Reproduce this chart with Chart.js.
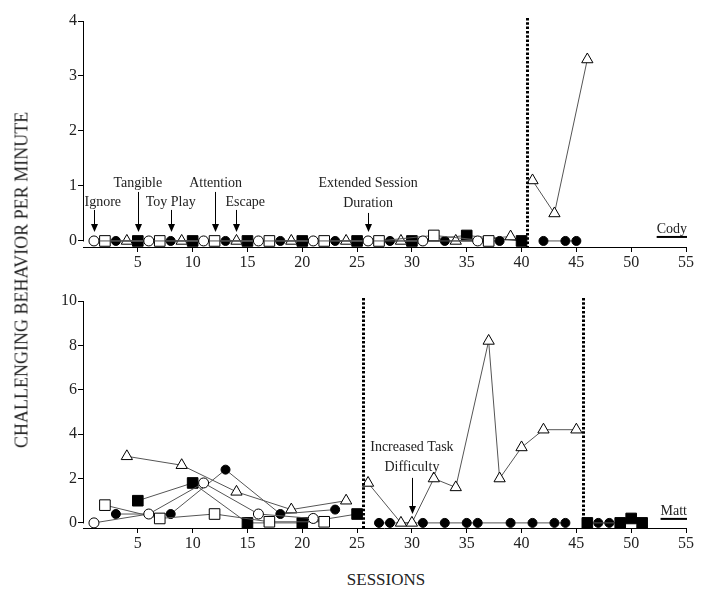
<!DOCTYPE html>
<html>
<head>
<meta charset="utf-8">
<script src="https://cdn.jsdelivr.net/npm/chart.js@4.4.1/dist/chart.umd.min.js"></script>
<style>
  body { margin: 0; background: #fff; }
  #wrap { position: relative; width: 704px; height: 598px; overflow: hidden; }
  canvas { position: absolute; left: 0; }
  #top_chart { top: 0; }
  #bottom_chart { top: 285px; }
  .axis_title { position: absolute; font-family: 'Liberation Serif', serif; font-size: 17px; color: #222; white-space: nowrap; }
  #y_title { left: 22px; top: 280px; font-size: 18px; transform: translate(-50%, -50%) rotate(-90deg); }
  #x_title { left: 386px; top: 580px; transform: translate(-50%, -50%); }
</style>
</head>
<body>
<div id="wrap">
  <canvas id="top_chart" width="704" height="280"></canvas>
  <canvas id="bottom_chart" width="704" height="276"></canvas>
  <div class="axis_title" id="y_title">CHALLENGING BEHAVIOR PER MINUTE</div>
  <div class="axis_title" id="x_title">SESSIONS</div>
</div>
<script>
// tick labels
var session_ticks = [5, 10, 15, 20, 25, 30, 35, 40, 45, 50, 55];
var cody_y_ticks = [0, 1, 2, 3, 4];
var matt_y_ticks = [0, 2, 4, 6, 8, 10];

// Cody - functional analysis (phase 1)
var cody_ignore_sessions = [1, 6, 11, 16, 21, 26, 31, 36];
var cody_ignore = [0, 0, 0, 0, 0, 0, 0, 0];
var cody_attention_sessions = [2, 7, 12, 17, 22, 27, 32, 37];
var cody_attention = [0, 0, 0, 0, 0, 0, 0.1, 0];
var cody_toyplay_sessions = [3, 8, 13, 18, 23, 28, 33, 38];
var cody_toyplay = [0, 0, 0, 0, 0, 0, 0, 0];
var cody_escape_sessions = [4, 9, 14, 19, 24, 29, 34, 39];
var cody_escape = [0, 0, 0, 0, 0, 0, 0, 0.08];
var cody_tangible_sessions = [5, 10, 15, 20, 25, 30, 35, 40];
var cody_tangible = [0, 0, 0, 0, 0, 0, 0.1, 0];
// Cody - phase 2
var cody_escape2_sessions = [41, 43, 46];
var cody_escape2 = [1.1, 0.5, 3.3];
var cody_toyplay2_sessions = [42, 44, 45];
var cody_toyplay2 = [0, 0, 0];
var cody_phase_changes = [40.5];

// Matt - functional analysis (phase 1)
var matt_ignore_sessions = [1, 6, 11, 16, 21];
var matt_ignore = [0, 0.4, 1.8, 0.4, 0.2];
var matt_attention_sessions = [2, 7, 12, 17, 22];
var matt_attention = [0.8, 0.2, 0.4, 0.05, 0.05];
var matt_toyplay_sessions = [3, 8, 13, 18, 23];
var matt_toyplay = [0.4, 0.4, 2.4, 0.4, 0.6];
var matt_escape_sessions = [4, 9, 14, 19, 24];
var matt_escape = [3.0, 2.6, 1.4, 0.6, 1.0];
var matt_tangible_sessions = [5, 10, 15, 20, 25];
var matt_tangible = [1.0, 1.8, 0, 0, 0.4];
// Matt - phase 2
var matt_escape2_sessions = [26, 29, 30, 32, 34, 37, 38, 40, 42, 45];
var matt_escape2 = [1.8, 0, 0, 2.0, 1.6, 8.2, 2.0, 3.4, 4.2, 4.2];
var matt_toyplay2_sessions = [27, 28, 31, 33, 35, 36, 39, 41, 43, 44];
var matt_toyplay2 = [0, 0, 0, 0, 0, 0, 0, 0, 0, 0];
// Matt - phase 3
var matt_tangible3_sessions = [46, 49, 50, 51];
var matt_tangible3 = [0, 0, 0.2, 0];
var matt_toyplay3_sessions = [47, 48];
var matt_toyplay3 = [0, 0];
var matt_phase_changes = [25.5, 45.6];

var serif = "'Liberation Serif', serif";
var ink = '#222';

// marker looks for each condition
var marker = {
    ignore:    { style: 'circle',   radius: 5,   fill: '#fff' },
    attention: { style: 'rect',     radius: 7.5, fill: '#fff' },
    toyplay:   { style: 'circle',   radius: 4.5, fill: '#000' },
    escape:    { style: 'triangle', radius: 6.5, fill: '#fff' },
    tangible:  { style: 'rect',     radius: 7.5, fill: '#000' }
};

function series(sessions, values, kind) {
    var m = marker[kind];
    return {
        data: sessions.map(function (s, i) { return { x: s, y: values[i] }; }),
        pointStyle: m.style,
        pointRadius: m.radius,
        pointBackgroundColor: m.fill,
        pointBorderColor: '#000',
        pointBorderWidth: 1,
        borderColor: '#555',
        borderWidth: 1,
        tension: 0,
        clip: false
    };
}

function arrow(ctx, x, y1, y2) {
    ctx.beginPath();
    ctx.moveTo(x, y1);
    ctx.lineTo(x, y2 - 6);
    ctx.stroke();
    ctx.beginPath();
    ctx.moveTo(x - 3.5, y2 - 8);
    ctx.lineTo(x + 3.5, y2 - 8);
    ctx.lineTo(x, y2);
    ctx.closePath();
    ctx.fill();
}

// axis lines, phase lines, notes and subject name
function panel_plugin(y_max, phases, notes, subject) {
    return {
        id: 'panel_extras',
        afterDraw: function (chart) {
            var ctx = chart.ctx;
            var xs = chart.scales.x, ys = chart.scales.y;
            var area = chart.chartArea;
            var zero = ys.getPixelForValue(0);
            ctx.save();
            ctx.strokeStyle = '#000';
            ctx.fillStyle = '#000';
            ctx.lineWidth = 1;
            ctx.beginPath();
            ctx.moveTo(area.left + 0.5, ys.getPixelForValue(y_max));
            ctx.lineTo(area.left + 0.5, zero + 0.5);
            ctx.moveTo(area.left, area.bottom + 0.5);
            ctx.lineTo(xs.getPixelForValue(55), area.bottom + 0.5);
            ctx.stroke();

            ctx.lineWidth = 3;
            ctx.setLineDash([2.5, 1.8]);
            phases.forEach(function (p) {
                var px = Math.round(xs.getPixelForValue(p)) + 0.5;
                ctx.beginPath();
                ctx.moveTo(px, ys.getPixelForValue(y_max) - 3);
                ctx.lineTo(px, area.bottom);
                ctx.stroke();
            });
            ctx.setLineDash([]);

            ctx.lineWidth = 1;
            ctx.fillStyle = ink;
            ctx.font = '14px ' + serif;
            ctx.textAlign = 'center';
            ctx.textBaseline = 'middle';
            notes.forEach(function (n) {
                n.lines.forEach(function (t, i) {
                    ctx.fillText(t, xs.getPixelForValue(n.label_at), zero - n.text_up + i * 20);
                });
                ctx.fillStyle = '#000';
                arrow(ctx, Math.round(xs.getPixelForValue(n.session)) + 0.5, zero - n.arrow_up, zero - 9);
                ctx.fillStyle = ink;
            });

            ctx.textAlign = 'right';
            ctx.textBaseline = 'alphabetic';
            var right = xs.getPixelForValue(55) + 1;
            ctx.fillText(subject, right, zero - 8);
            var w = ctx.measureText(subject).width;
            ctx.lineWidth = 2;
            ctx.strokeStyle = '#000';
            ctx.beginPath();
            ctx.moveTo(right - w, zero - 4);
            ctx.lineTo(right, zero - 4);
            ctx.stroke();
            ctx.restore();
        }
    };
}

function make_panel(canvas_id, datasets, y_min, y_max, y_ticks, top_pad, plugin) {
    return new Chart(document.getElementById(canvas_id), {
        type: 'line',
        data: { datasets: datasets },
        options: {
            responsive: false,
            animation: false,
            layout: { padding: { top: top_pad, right: 18, left: 0, bottom: 0 } },
            scales: {
                x: {
                    type: 'linear',
                    min: 0,
                    max: 55,
                    afterBuildTicks: function (axis) {
                        axis.ticks = session_ticks.map(function (v) { return { value: v }; });
                    },
                    afterFit: function (axis) { axis.height = 33; },
                    grid: { drawOnChartArea: false, tickLength: 5, color: '#000' },
                    border: { display: false },
                    ticks: { color: ink, padding: 1, maxRotation: 0, font: { family: serif, size: 16 } }
                },
                y: {
                    min: y_min,
                    max: y_max,
                    afterBuildTicks: function (axis) {
                        axis.ticks = y_ticks.map(function (v) { return { value: v }; });
                    },
                    afterFit: function (axis) { axis.width = 83; },
                    grid: { drawOnChartArea: false, tickLength: 5, color: '#000' },
                    border: { display: false },
                    ticks: { color: ink, padding: 1, font: { family: serif, size: 16 } }
                }
            },
            plugins: { legend: { display: false }, tooltip: { enabled: false } }
        },
        plugins: [plugin]
    });
}

var cody_notes = [
    { session: 1,  label_at: 1.8,  lines: ['Ignore'],    text_up: 39, arrow_up: 31 },
    { session: 5,  label_at: 5,    lines: ['Tangible'],  text_up: 58, arrow_up: 49 },
    { session: 8,  label_at: 8,    lines: ['Toy Play'],  text_up: 39, arrow_up: 31 },
    { session: 12, label_at: 12.1, lines: ['Attention'], text_up: 58, arrow_up: 49 },
    { session: 14, label_at: 14.8, lines: ['Escape'],    text_up: 39, arrow_up: 31 },
    { session: 26, label_at: 26,   lines: ['Extended Session', 'Duration'], text_up: 58, arrow_up: 28 }
];
var matt_notes = [
    { session: 30, label_at: 30, lines: ['Increased Task', 'Difficulty'], text_up: 76, arrow_up: 45 }
];

var cody_chart = make_panel('top_chart', [
    series(cody_ignore_sessions, cody_ignore, 'ignore'),
    series(cody_attention_sessions, cody_attention, 'attention'),
    series(cody_toyplay_sessions, cody_toyplay, 'toyplay'),
    series(cody_escape_sessions, cody_escape, 'escape'),
    series(cody_tangible_sessions, cody_tangible, 'tangible'),
    series(cody_escape2_sessions, cody_escape2, 'escape'),
    series(cody_toyplay2_sessions, cody_toyplay2, 'toyplay')
], -0.11, 4, cody_y_ticks, 21, panel_plugin(4, cody_phase_changes, cody_notes, 'Cody'));

var matt_chart = make_panel('bottom_chart', [
    series(matt_ignore_sessions, matt_ignore, 'ignore'),
    series(matt_attention_sessions, matt_attention, 'attention'),
    series(matt_toyplay_sessions, matt_toyplay, 'toyplay'),
    series(matt_escape_sessions, matt_escape, 'escape'),
    series(matt_tangible_sessions, matt_tangible, 'tangible'),
    series(matt_escape2_sessions, matt_escape2, 'escape'),
    series(matt_toyplay2_sessions, matt_toyplay2, 'toyplay'),
    series(matt_tangible3_sessions, matt_tangible3, 'tangible'),
    series(matt_toyplay3_sessions, matt_toyplay3, 'toyplay')
], -0.23, 10, matt_y_ticks, 16, panel_plugin(10, matt_phase_changes, matt_notes, 'Matt'));
</script>
</body>
</html>
